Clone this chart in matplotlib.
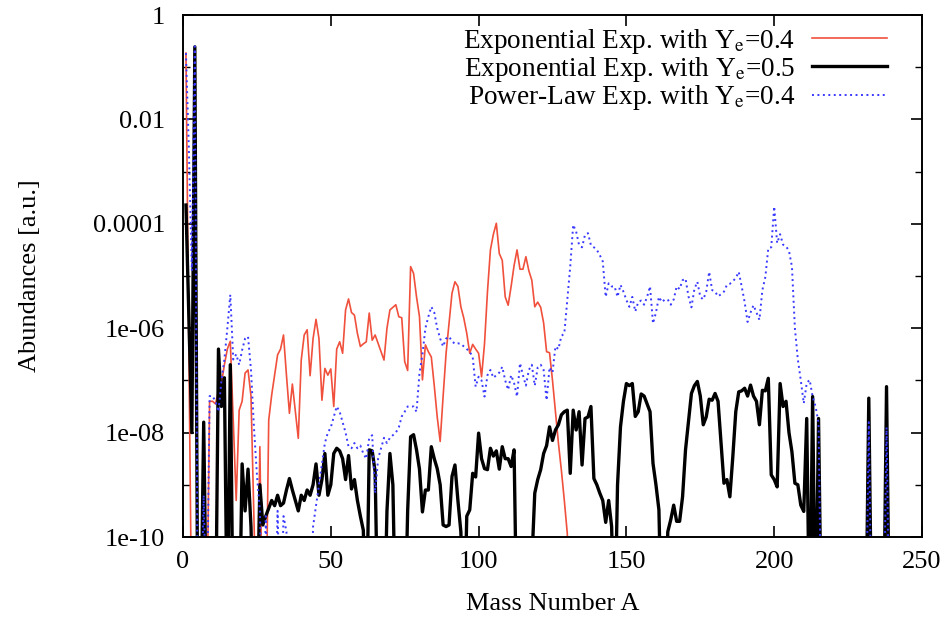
import numpy as np
import matplotlib
matplotlib.use("Agg")
import matplotlib.pyplot as plt
from matplotlib.ticker import FixedLocator, FixedFormatter, NullFormatter

# ============================================================
# DATA (log10 of abundance per mass number, -12 = below plot range)
# ============================================================

mass_red = list(range(1, 132))
logab_red = [
    -0.73, -6.5, -12, -12, -12, -12, -12, -12, -7.4, -7.4,
    -7.45, -7.2, -7.06, -6.7, -6.4, -6.25, -7.8, -9.3, -7.57, -7.4,
    -6.86, -6.8, -7.3, -9.67, -12, -8.27, -12, -12, -7.76, -7.28,
    -6.9, -6.51, -6.4, -6.13, -6.9, -7.63, -7.07, -7.6, -8.11, -6.61,
    -6.13, -6.03, -6.91, -6.2, -5.83, -6.2, -7.38, -6.77, -6.9, -6.78,
    -7.5, -6.4, -6.26, -6.48, -5.65, -5.44, -5.7, -5.75, -6.1, -6.35,
    -6.3, -6.26, -5.71, -6.23, -6.13, -6.29, -6.45, -6.61, -6.0, -5.65,
    -5.6, -5.55, -5.78, -5.8, -6.64, -6.81, -4.82, -4.95, -5.4, -5.78,
    -6.99, -6.32, -6.45, -6.55, -7.1, -7.7, -8.17, -7.3, -6.48, -5.9,
    -5.33, -5.11, -5.2, -5.59, -5.81, -6.1, -6.48, -6.31, -6.4, -6.48,
    -6.93, -6.3, -5.3, -4.5, -4.2, -3.99, -4.57, -4.7, -5.4, -5.56,
    -5.2, -4.8, -4.5, -4.87, -4.87, -4.63, -4.9, -5.08, -5.59, -5.5,
    -5.6, -5.9, -6.45, -6.47, -7.0, -7.6, -8.2, -8.72, -9.3, -9.93,
    -12,
]

mass_black = list(range(1, 217)) + [231, 232, 233, 237, 238, 239]
logab_black = [
    -3.64, -5.8, -8.0, -0.61, -12, -12, -7.8, -12, -12, -12,
    -12, -6.4, -7.5, -6.95, -12, -6.7, -12, -12, -12, -8.6,
    -9.5, -8.7, -9.8, -12, -12, -9.0, -9.77, -9.6, -9.45, -9.3,
    -9.4, -9.2, -9.4, -9.35, -9.1, -8.88, -9.1, -9.3, -9.5, -9.2,
    -9.3, -9.1, -9.2, -9.0, -8.6, -9.2, -8.9, -8.4, -9.2, -9.0,
    -8.4, -8.3, -8.35, -8.5, -8.9, -8.44, -9.08, -8.9, -9.3, -9.6,
    -9.87, -12, -8.33, -8.35, -8.75, -12, -12, -12, -9.5, -8.4,
    -9.0, -12, -12, -12, -12, -9.5, -8.08, -8.04, -8.33, -8.7,
    -9.52, -9.1, -9.1, -8.27, -8.5, -8.69, -9.0, -9.77, -9.8, -9.77,
    -8.84, -8.62, -9.3, -9.9, -12, -9.6, -9.48, -8.78, -8.85, -8.01,
    -8.5, -8.69, -8.71, -8.3, -8.45, -8.35, -8.7, -8.27, -8.5, -8.5,
    -8.65, -8.33, -12, -12, -12, -12, -12, -10.5, -9.16, -8.9,
    -8.71, -8.4, -8.25, -7.89, -8.15, -7.95, -7.85, -7.66, -7.6, -7.57,
    -8.78, -7.57, -7.95, -7.6, -8.62, -7.73, -7.7, -7.5, -8.88, -9.0,
    -9.16, -9.3, -9.72, -9.3, -9.8, -12, -9.0, -7.89, -7.4, -7.06,
    -7.1, -7.06, -7.69, -7.6, -7.26, -7.3, -7.45, -7.6, -8.59, -9.0,
    -9.48, -12, -12, -9.9, -9.67, -9.39, -9.7, -9.7, -9.23, -8.33,
    -7.8, -7.25, -7.1, -7.02, -7.3, -7.85, -7.7, -7.36, -7.38, -7.25,
    -7.4, -8.2, -8.97, -8.9, -9.23, -8.46, -7.6, -7.22, -7.2, -7.15,
    -7.3, -7.09, -7.3, -7.4, -7.85, -7.19, -7.2, -6.96, -8.81, -8.9,
    -9.04, -7.06, -7.5, -7.4, -8.0, -8.37, -8.97, -9.0, -9.39, -9.51,
    -7.73, -12, -7.31, -12, -7.73, -12,
    -12, -7.34, -12, -12, -7.12, -12,
]

mass_blue = list(range(1, 217)) + [231, 232, 233, 237, 238, 239]
logab_blue = [
    -0.73, -2.6, -4.9, -0.6, -12, -12, -9.2, -12, -7.3, -7.3,
    -7.4, -7.6, -7.0, -6.6, -6.0, -5.36, -6.6, -6.5, -6.7, -6.42,
    -6.2, -6.16, -6.8, -7.9, -8.8, -9.5, -12, -9.6, -12, -12,
    -12, -9.5, -12, -9.6, -9.9, -12, -12, -12, -12, -12,
    -12, -12, -12, -9.8, -9.4, -9.0, -8.6, -8.2, -8.0, -7.9,
    -7.7, -7.5, -7.6, -7.8, -8.0, -8.27, -8.3, -8.2, -8.3, -8.25,
    -8.4, -8.5, -8.1, -8.05, -9.16, -8.5, -8.3, -8.1, -8.2, -8.1,
    -8.05, -8.0, -7.9, -7.69, -7.6, -7.5, -7.5, -7.5, -7.6, -6.86,
    -6.5, -6.0, -5.78, -5.59, -5.7, -6.0, -6.2, -6.35, -6.2, -6.16,
    -6.25, -6.3, -6.29, -6.3, -6.35, -6.4, -6.45, -6.55, -7.12, -6.93,
    -7.0, -7.31, -6.9, -6.8, -6.95, -6.9, -6.85, -6.74, -7.0, -7.18,
    -6.9, -7.05, -7.31, -6.67, -6.9, -7.1, -6.8, -6.7, -7.1, -6.75,
    -6.7, -6.8, -7.38, -6.75, -6.85, -6.35, -6.4, -6.15, -6.1, -5.46,
    -4.82, -4.02, -4.15, -4.41, -4.45, -4.21, -4.18, -4.41, -4.45, -4.5,
    -4.6, -4.72, -5.4, -5.14, -5.2, -5.2, -5.4, -5.17, -5.3, -5.46,
    -5.59, -5.4, -5.68, -5.5, -5.47, -5.55, -5.4, -5.2, -5.91, -5.7,
    -5.4, -5.5, -5.45, -5.45, -5.55, -5.45, -5.2, -5.25, -5.08, -5.05,
    -5.39, -5.6, -5.25, -5.11, -5.4, -5.45, -5.3, -4.92, -5.27, -5.3,
    -5.39, -5.35, -5.3, -5.17, -5.15, -5.1, -5.04, -4.92, -5.2, -5.5,
    -5.88, -5.7, -5.56, -5.7, -5.84, -5.27, -5.02, -4.47, -4.45, -3.67,
    -4.37, -4.2, -4.4, -4.43, -4.52, -4.82, -6.0, -6.6, -7.0, -7.44,
    -7.05, -6.99, -7.31, -7.5, -7.82, -12,
    -12, -7.8, -12, -12, -7.9, -12,
]

labels = [
    r"Exponential Exp. with Y$_\mathrm{e}$=0.4",
    r"Exponential Exp. with Y$_\mathrm{e}$=0.5",
    r"Power-Law Exp. with Y$_\mathrm{e}$=0.4",
]

ytick_vals = [1, 1e-2, 1e-4, 1e-6, 1e-8, 1e-10]
ytick_labels = ["1", "0.01", "0.0001", "1e-06", "1e-08", "1e-10"]
yminor_vals = [1e-1, 1e-3, 1e-5, 1e-7, 1e-9]
xtick_vals = [0, 50, 100, 150, 200, 250]

# ============================================================
# STYLE
# ============================================================

plt.rcParams["font.family"] = ["Liberation Serif", "DejaVu Serif"]
plt.rcParams["mathtext.fontset"] = "stix"
FS = 19
FS_LEG = 19.6

fig = plt.figure(figsize=(9.47, 6.19), dpi=100)
ax = fig.add_axes([183 / 947, 1 - 537 / 619, 739 / 947, 522 / 619])

ax.plot(mass_red, 10 ** np.array(logab_red), color="#f0503c", lw=1.2, label=labels[0])
ax.plot(mass_black, 10 ** np.array(logab_black), color="black", lw=2.4, label=labels[1])
ax.plot(mass_blue, 10 ** np.array(logab_blue), color="#3a3aff", lw=1.4,
        ls=(0, (1, 1.8)), label=labels[2])

ax.set_yscale("log")
ax.set_xlim(0, 250)
ax.set_ylim(1e-10, 1)

ax.yaxis.set_major_locator(FixedLocator(ytick_vals))
ax.yaxis.set_major_formatter(FixedFormatter(ytick_labels))
ax.yaxis.set_minor_locator(FixedLocator(yminor_vals))
ax.yaxis.set_minor_formatter(NullFormatter())
ax.set_xticks(xtick_vals)

ax.tick_params(which="both", direction="in", top=True, right=True, labelsize=FS)
ax.tick_params(which="major", length=8, width=1.2)
ax.tick_params(which="minor", length=5, width=1.0)
ax.tick_params(axis="y", pad=13)
ax.tick_params(axis="x", pad=10)
for s in ax.spines.values():
    s.set_linewidth(1.4)

ax.set_xlabel("Mass Number A", fontsize=FS)
ax.set_ylabel("Abundances [a.u.]", fontsize=FS)
ax.xaxis.set_label_coords(0.5, -0.128)
ax.yaxis.set_label_coords(-0.207, 0.5)
ax.xaxis.label.set_va("center")
ax.yaxis.label.set_va("center")

leg = ax.legend(loc="upper right", bbox_to_anchor=(0.978, 1.014), frameon=False,
                markerfirst=False, fontsize=FS_LEG, handlelength=2.75, handletextpad=0.62,
                labelspacing=-0.03, borderpad=0.2)

fig.savefig("out.png", dpi=100)
